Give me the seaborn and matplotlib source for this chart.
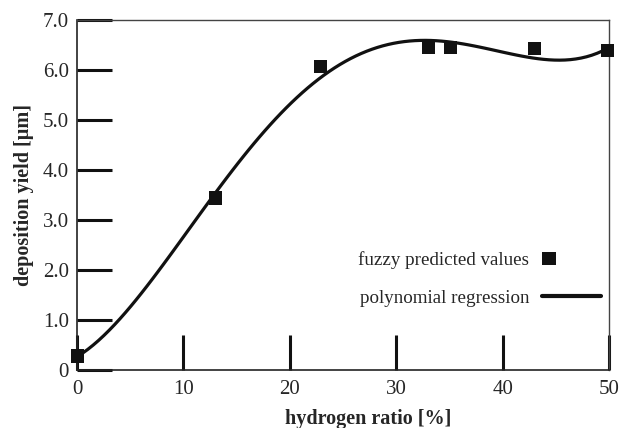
import numpy as np
import pandas as pd
import matplotlib.pyplot as plt
import seaborn as sns
from matplotlib.lines import Line2D
from matplotlib.patches import Rectangle

hydrogen_ratio = [0.0, 13.0, 22.9, 33.0, 35.1, 43.0, 49.9]
deposition_yield = [0.28, 3.44, 6.07, 6.44, 6.44, 6.42, 6.38]

df = pd.DataFrame({"ratio": hydrogen_ratio, "yield": deposition_yield})

sns.set_style("ticks")
plt.rcParams["font.family"] = ["Liberation Serif", "DejaVu Serif"]


class LeftSquare:
    # legend handle: square sitting at the left end of the handle box
    def legend_artist(self, legend, orig_handle, fontsize, handlebox):
        x0, y0 = handlebox.xdescent, handlebox.ydescent
        h = handlebox.height
        side = 9.8
        patch = Rectangle((x0, y0 + h / 2 - side / 2), side, side,
                          facecolor="#111111", edgecolor="none",
                          transform=handlebox.get_transform())
        handlebox.add_artist(patch)
        return patch


fig = plt.figure(figsize=(6.22, 4.28), dpi=100)
ax = fig.add_axes([0.124, 0.1355, 0.855, 0.818])

# polynomial regression curve
sns.regplot(data=df, x="ratio", y="yield", order=4, ci=None, scatter=False,
            truncate=True, line_kws={"color": "#111111", "lw": 2.3}, ax=ax)
sns.scatterplot(data=df, x="ratio", y="yield", marker="s", s=90,
                color="#111111", edgecolor="none", ax=ax, zorder=5, clip_on=False)

ax.set_xlim(0, 50)
ax.set_ylim(0, 7)
ax.set_xticks([0, 10, 20, 30, 40, 50])
ax.set_xticklabels(["0", "10", "20", "30", "40", "50"])
ax.set_yticks(np.arange(0, 8))
ax.set_yticklabels(["0", "1.0", "2.0", "3.0", "4.0", "5.0", "6.0", "7.0"])
ax.tick_params(axis="both", direction="in", length=25, width=2.2,
               color="#111111", labelsize=15)
ax.tick_params(axis="y", pad=6)
ax.tick_params(axis="x", pad=7)
for side in ["left", "bottom"]:
    ax.spines[side].set_linewidth(1.2)
    ax.spines[side].set_color("#222222")
for side in ["top", "right"]:
    ax.spines[side].set_linewidth(1.0)
    ax.spines[side].set_color("#444444")

ax.set_xlabel("hydrogen ratio [%]", fontsize=14.5, fontweight="bold")
ax.xaxis.set_label_coords(0.548, -0.11)
ax.set_ylabel("deposition yield [µm]", fontsize=14.5, fontweight="bold")
ax.yaxis.set_label_coords(-0.082, 0.5)

marker_handle = Line2D([], [], marker="s", ls="none", color="#111111")
line_handle = Line2D([], [], color="#111111", lw=3)
ax.legend([marker_handle, line_handle],
          ["fuzzy predicted values", "polynomial regression"],
          handler_map={marker_handle: LeftSquare()},
          loc="center right", bbox_to_anchor=(1.0, 0.26), frameon=False,
          markerfirst=False, fontsize=13.7, handlelength=3.1,
          handletextpad=0.68, labelspacing=1.05, borderaxespad=0.0)

fig.savefig("out.png", dpi=100)
